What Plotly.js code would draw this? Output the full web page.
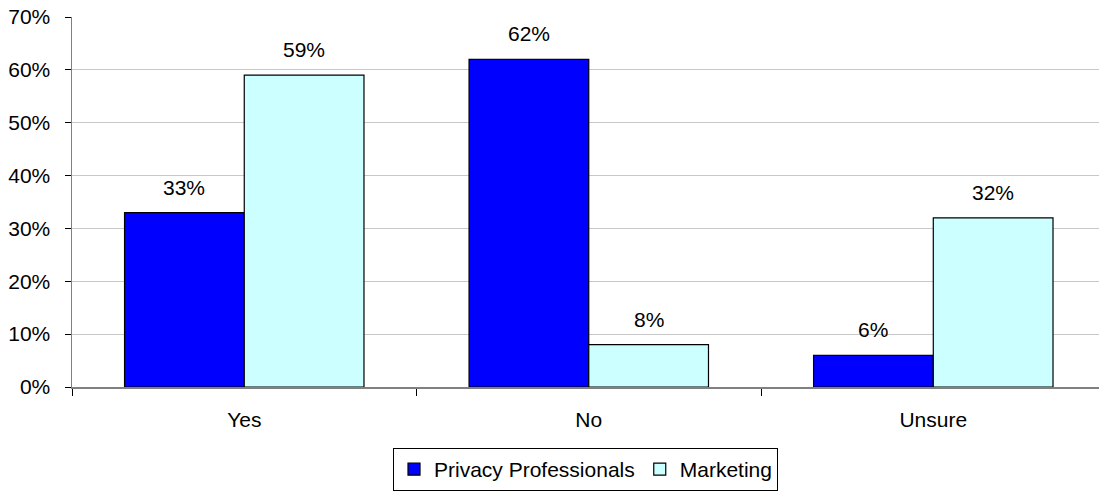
<!DOCTYPE html>
<html><head><meta charset="utf-8">
<script src="https://cdn.plot.ly/plotly-3.0.1.min.js"></script>
<style>html,body{margin:0;padding:0;background:#fff;}#chart{width:1099px;height:497px;}</style>
</head><body><div id="chart"></div>
<script>
const categories = ["Yes", "No", "Unsure"];
const privacyValues = [33, 62, 6];
const marketingValues = [59, 8, 32];
const seriesNames = ["Privacy Professionals", "Marketing"];
const yTickVals = [0, 10, 20, 30, 40, 50, 60, 70];
const yTickText = ["0%", "10%", "20%", "30%", "40%", "50%", "60%", "70%"];

const font = {family: "Liberation Sans, Arial, sans-serif", size: 21, color: "#000"};
const barHalf = 60;

const traces = [
  {type: "bar", name: seriesNames[0], x: categories, y: privacyValues,
   marker: {color: "#0000ff", line: {color: "#000", width: 1.2}}, hoverinfo: "none"},
  {type: "bar", name: seriesNames[1], x: categories, y: marketingValues,
   marker: {color: "#ccffff", line: {color: "#000", width: 1.2}}, hoverinfo: "none"}
];

const annotations = [];
[privacyValues, marketingValues].forEach((vals, s) => {
  vals.forEach((v, i) => {
    annotations.push({x: categories[i], y: v, text: v + "%", showarrow: false,
      xref: "x", yref: "y", xanchor: "center", yanchor: "bottom",
      xshift: s === 0 ? -barHalf : barHalf, yshift: 12, font: font});
  });
});

const layout = {
  width: 1099, height: 497,
  margin: {l: 72, r: 0, t: 17, b: 110, pad: 0, autoexpand: false},
  paper_bgcolor: "#fff", plot_bgcolor: "#fff",
  font: font,
  barmode: "group", bargap: 0.305, bargroupgap: 0,
  showlegend: true,
  legend: {orientation: "h", x: 0.5, xanchor: "center", y: -0.165, yanchor: "top",
    bordercolor: "#000", borderwidth: 1, font: font, traceorder: "normal",
    itemwidth: 30, tracegroupgap: 0, maxheight: 60},
  xaxis: {type: "category", range: [-0.5, 2.481], tickson: "boundaries",
    ticks: "outside", ticklen: 7, tickcolor: "#000", tickwidth: 1,
    ticklabelstandoff: 13, automargin: false,
    showline: true, linecolor: "#808080", linewidth: 1.5, showgrid: false,
    tickfont: font, zeroline: false},
  yaxis: {range: [0, 70], tickvals: yTickVals, ticktext: yTickText,
    ticks: "outside", ticklen: 6, tickcolor: "#000", tickwidth: 1,
    ticklabelstandoff: 10, automargin: false,
    showline: true, linecolor: "#808080", linewidth: 1.5,
    showgrid: true, gridcolor: "#c8c8c8", gridwidth: 1, zeroline: false,
    tickfont: font},
  annotations: annotations
};

Plotly.newPlot("chart", traces, layout, {staticPlot: true, displayModeBar: false});
</script></body></html>
